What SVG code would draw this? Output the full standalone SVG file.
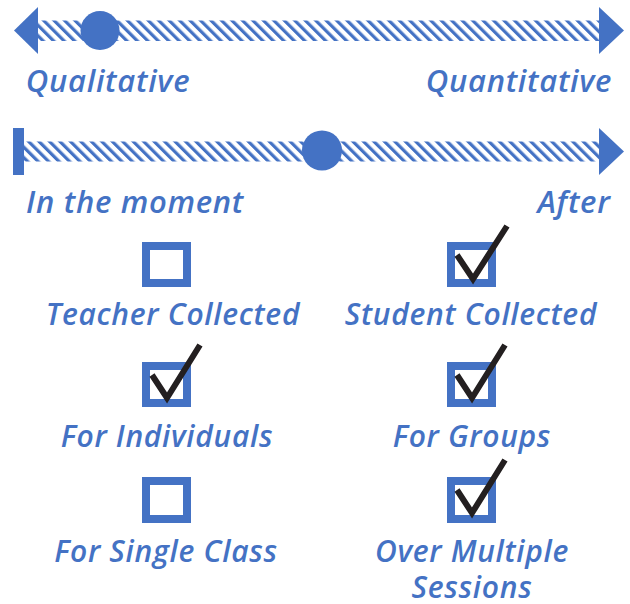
<svg xmlns="http://www.w3.org/2000/svg" width="630" height="604" viewBox="0 0 630 604">
<defs>
<pattern id="hatch" patternUnits="userSpaceOnUse" width="7.4" height="10" patternTransform="rotate(-45)">
<rect x="0" y="0" width="3.2" height="10" fill="#4472C4"/>
</pattern>
<style>
.blue{fill:#4472C4}
.lbl{font-family:"Open Sans","Liberation Sans",sans-serif;font-style:italic;font-weight:600;fill:#4472C4;text-anchor:middle}
.big{font-size:31px;letter-spacing:0.7px}
.sm{font-size:30px;letter-spacing:0.7px}
.box{fill:none;stroke:#4472C4;stroke-width:8}
.chk{fill:none;stroke:#231F20;stroke-width:6;stroke-linejoin:miter;stroke-linecap:butt}
</style>
</defs>
<g id="connectors">
<g id="scale-qual-quant">
<rect x="38" y="20.5" width="561" height="20.5" fill="url(#hatch)"/>
<polygon class="blue" points="14,30.5 38,7 38,54"/>
<polygon class="blue" points="624,30.5 599,7 599,54"/>
<circle class="blue" cx="100" cy="30.5" r="19.5"/>
</g>
<g id="scale-time">
<rect x="24" y="141.5" width="575" height="20" fill="url(#hatch)"/>
<rect class="blue" x="13" y="128" width="11" height="47"/>
<polygon class="blue" points="624,151.5 599,128 599,175"/>
<circle class="blue" cx="322" cy="150.5" r="20"/>
</g>
</g>
<g id="labels-scales">
<text class="lbl big" x="108" y="92">Qualitative</text>
<text class="lbl big" x="519" y="92">Quantitative</text>
<text class="lbl big" x="135" y="213">In the moment</text>
<text class="lbl big" x="574" y="213">After</text>
</g>
<g id="teacher-collected">
<rect class="box" x="146" y="246" width="41" height="37"/>
<text class="lbl sm" x="173" y="325">Teacher Collected</text>
</g>
<g id="student-collected">
<rect class="box" x="451" y="246" width="41" height="37"/>
<polyline class="chk" points="457,255 473,279 507,226"/>
<text class="lbl sm" x="471" y="325">Student Collected</text>
</g>
<g id="for-individuals">
<rect class="box" x="146" y="366" width="41" height="37"/>
<polyline class="chk" points="152,375 167,398 200,345"/>
<text class="lbl sm" x="167" y="447">For Individuals</text>
</g>
<g id="for-groups">
<rect class="box" x="451" y="366" width="41" height="37"/>
<polyline class="chk" points="457,375 472,398 505,345"/>
<text class="lbl sm" x="472" y="447">For Groups</text>
</g>
<g id="for-single-class">
<rect class="box" x="146" y="481" width="41" height="38"/>
<text class="lbl sm" x="166" y="562">For Single Class</text>
</g>
<g id="over-multiple-sessions">
<rect class="box" x="451" y="481" width="41" height="38"/>
<polyline class="chk" points="457,490 472,513 505,460"/>
<text class="lbl sm" x="472" y="562">Over Multiple</text>
<text class="lbl sm" x="472" y="598">Sessions</text>
</g>
</svg>
